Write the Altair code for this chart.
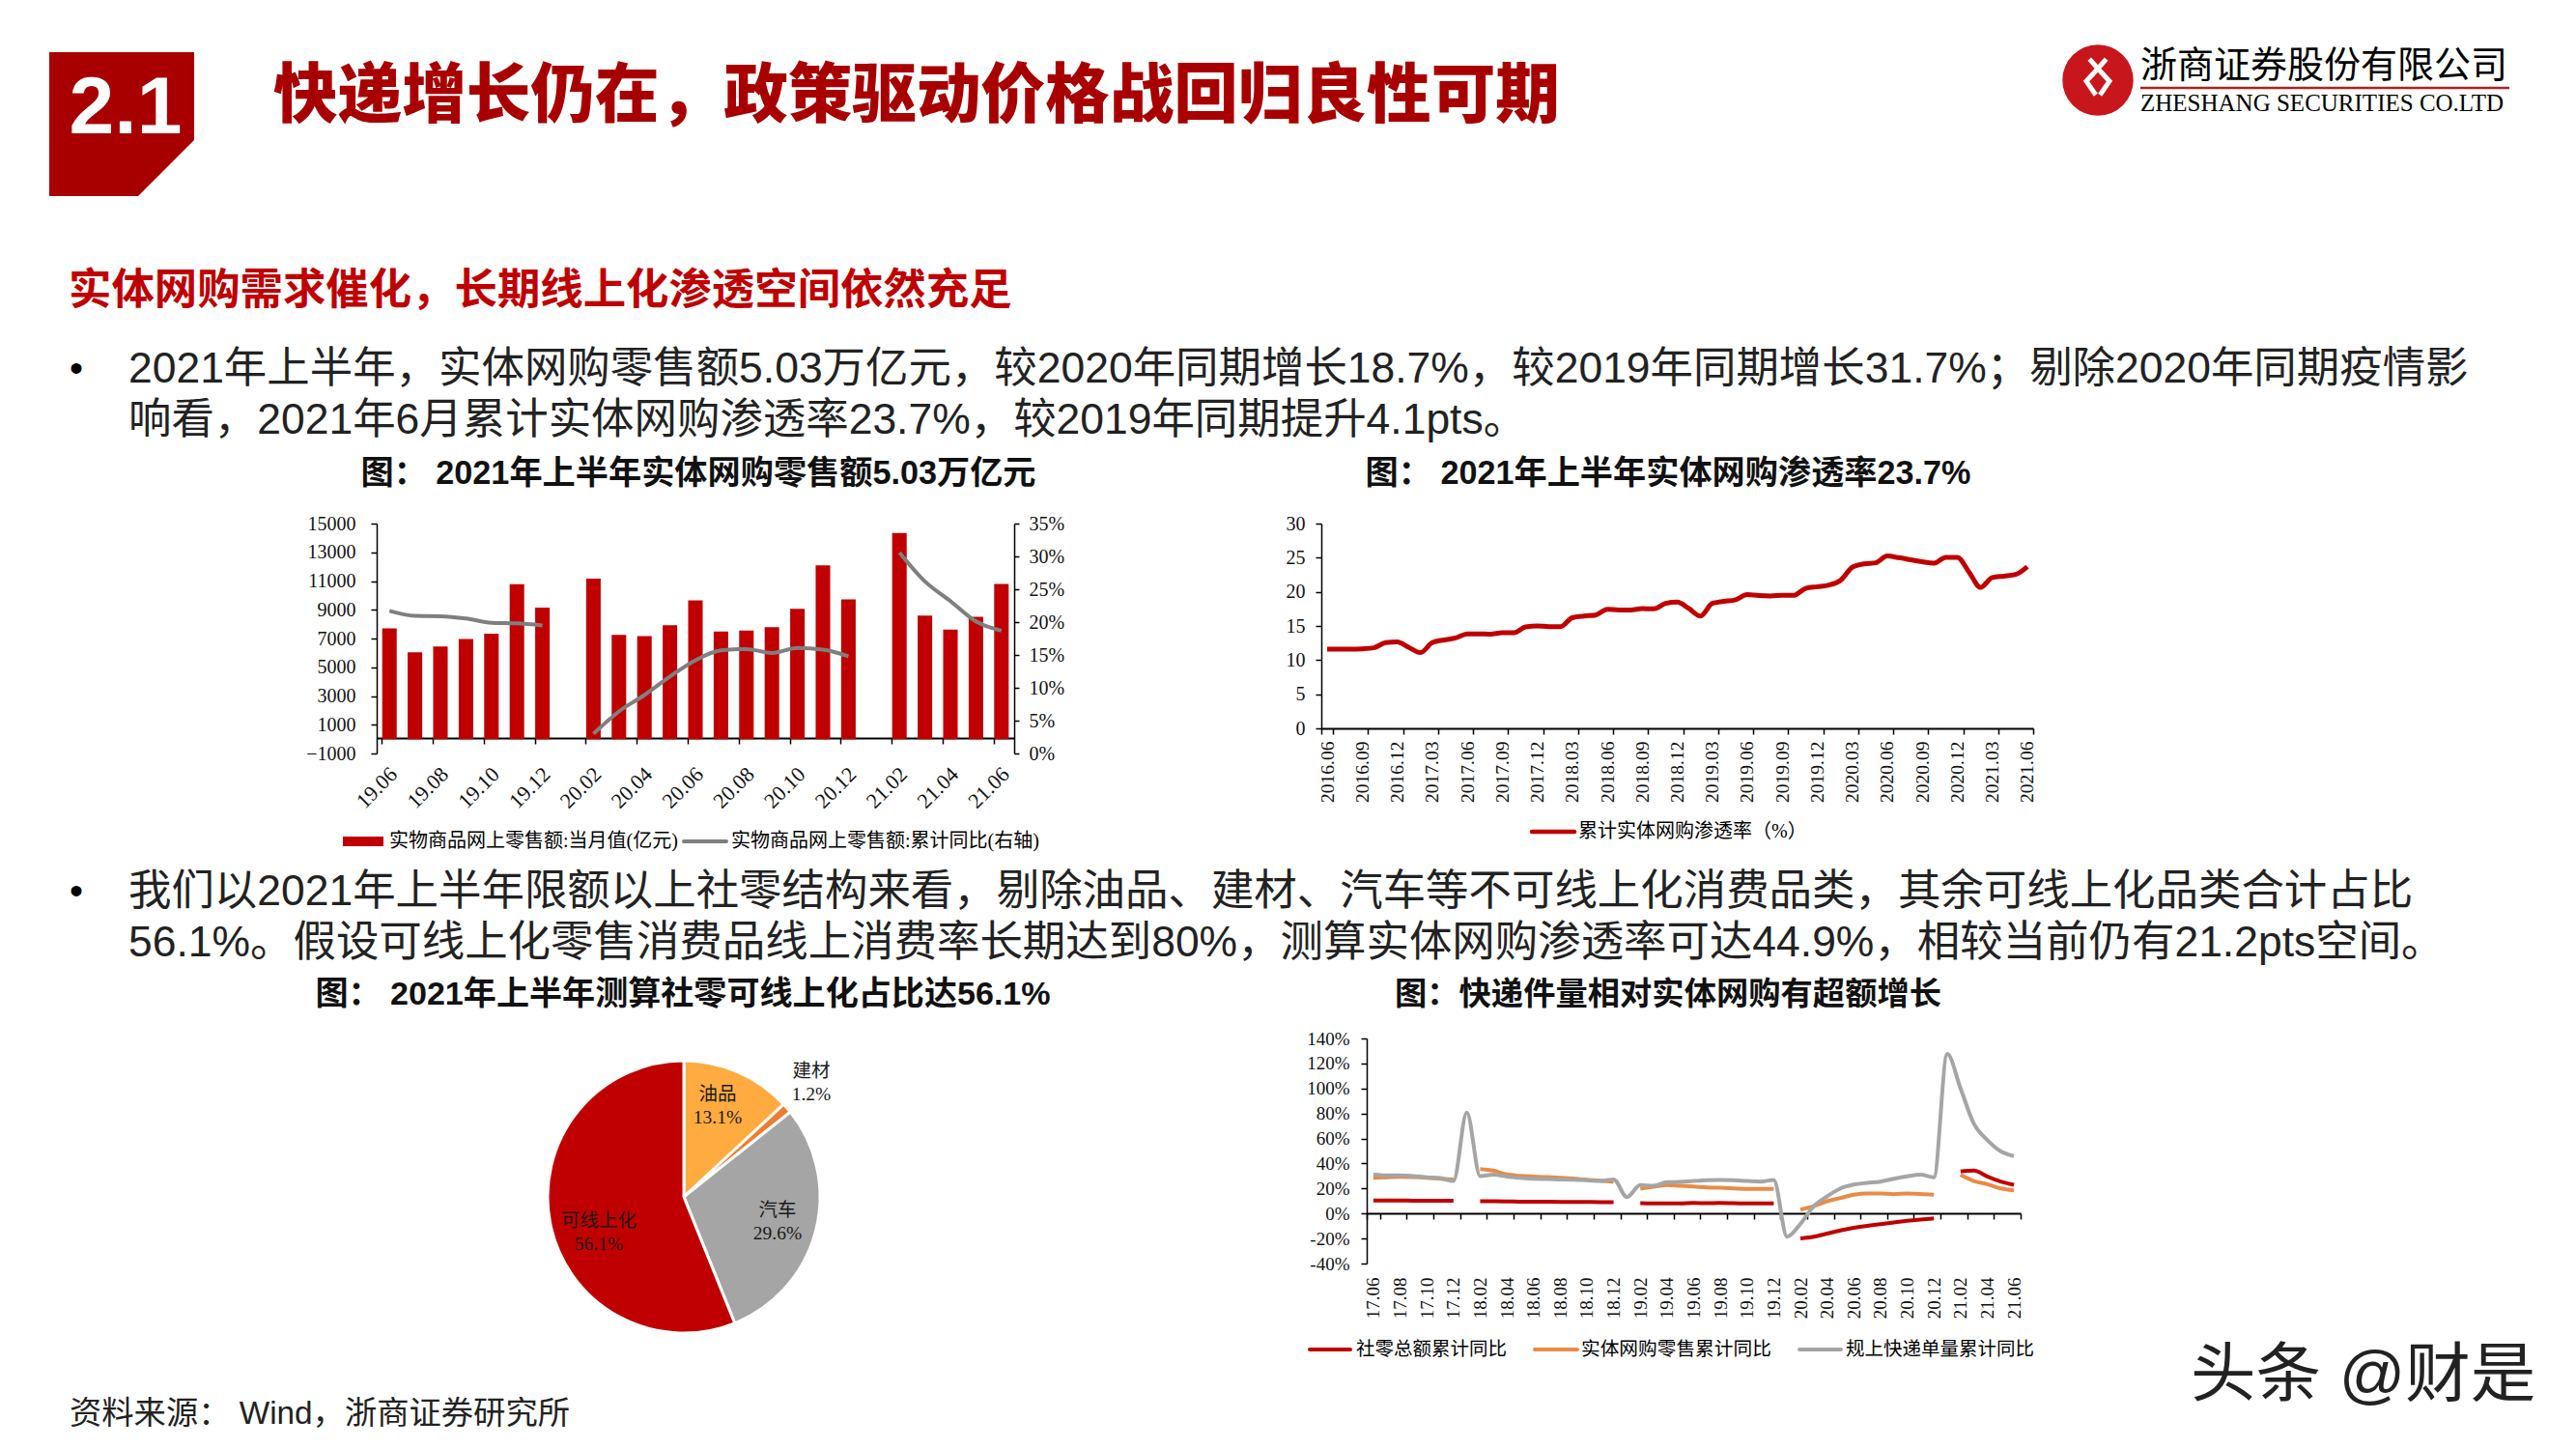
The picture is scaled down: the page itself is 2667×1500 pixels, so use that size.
import altair as alt
import pandas as pd

SERIF = "Liberation Serif, 'Noto Sans CJK SC'"
SANS = "Liberation Sans, 'Noto Sans CJK SC'"
RED = "#C00000"

m1 = ["19.06","19.07","19.08","19.09","19.10","19.11","19.12","20.01","20.02","20.03","20.04","20.05","20.06",
      "20.07","20.08","20.09","20.10","20.11","20.12","21.01","21.02","21.03","21.04","21.05","21.06"]
bars1 = [7700,6040,6440,6960,7340,10780,9150,None,11160,7250,7160,7920,9660,7490,7560,7785,9060,12100,9730,None,14340,8590,7630,8520,10800]
line1 = [21.7,20.95,20.9,20.55,19.9,19.8,19.5,None,3.0,6.4,8.9,11.7,14.2,15.7,15.9,15.3,16.05,15.8,14.8,None,30.6,26.2,23.2,20.1,18.7]

m2 = [f"{y}.{mm:02d}" for y in range(2016, 2022) for mm in range(1, 13)][5:66]
pen = [11.6,11.6,11.6,11.65,11.8,12.55,12.65,11.85,11.1,12.55,12.95,13.25,13.85,13.85,13.8,14.0,14.0,14.85,15.0,14.9,14.9,
       16.2,16.45,16.6,17.45,17.35,17.35,17.55,17.5,18.3,18.5,17.55,16.45,18.3,18.6,18.85,19.6,19.45,19.4,19.5,19.5,20.5,
       20.75,21.0,21.7,23.6,24.1,24.25,25.25,25.0,24.7,24.4,24.2,25.05,25.05,22.9,20.65,22.1,22.3,22.55,23.7]

pie_names = ["油品","建材","汽车","可线上化"]
pie_vals = [13.1,1.2,29.6,56.1]
pie_cols = ["#FFAB40","#ED7D31","#A5A5A5","#C00000"]

m4 = [f"{y}.{mm:02d}" for y in range(17, 22) for mm in range(1, 13)][5:54]
gray4 = [31,30.4,30.4,30,29,28.4,26,80.7,30,31,29.6,28.6,27.8,27.6,27.3,27,26.6,26,27.3,13.2,22.7,22.2,25,25.3,26,26.6,26.8,26.6,26,25.5,26.8,
         -18.5,-8.3,5.9,13.7,20.1,23.2,24.5,25.5,27.8,29.7,31,28.9,127.6,100,71.7,58.8,49.8,45.9]
orange4 = [28.6,29,29.4,29.2,28.6,27.8,27.3,None,35.6,34.3,31.2,30.2,29.6,29.1,28.6,27.9,27,26.3,25.3,None,19.9,21.4,22.7,22.2,21.6,20.9,20.6,20.1,19.6,19.6,19.6,
           None,3.1,5.9,9.8,12.4,15,16,16,15.5,16,15.7,15,None,30.9,26,23.5,20.1,18.6]
red4 = [10.4,10.4,10.4,10.3,10.3,10.2,10.2,None,9.8,9.8,9.7,9.5,9.4,9.4,9.3,9.2,9.2,9.1,9.0,None,8.2,8.1,8.0,8.0,8.4,8.3,8.4,8.2,8.1,8.0,8.0,
        None,-20,-18.6,-16,-13.5,-11.4,-9.8,-8.6,-7.2,-5.9,-4.8,-3.9,None,33.8,34.3,29.6,25.6,23]

one = pd.DataFrame({"a":[0]})

def txt(x, y, s, size, color="#000000", font=SANS, weight="normal", align="left"):
    return alt.Chart(one).mark_text(text=s, fontSize=size, color=color, font=font, fontWeight=weight,
                                    align=align, baseline="middle").encode(x=alt.value(x), y=alt.value(y))
def seg(x1, x2, y, color, w, cap="round"):
    return alt.Chart(one).mark_rule(color=color, strokeWidth=w, strokeCap=cap).encode(
        x=alt.value(x1), x2=alt.value(x2), y=alt.value(y))
def spacer(w, h):
    return alt.Chart(one).mark_point(opacity=0, size=1).encode(x=alt.value(1), y=alt.value(1)).properties(width=w, height=h)

# ---------- page furniture (panel origin is page (8,8))
O = 8
def P(x, y): return x - O, y - O
badge = pd.DataFrame({"x":[51-O,143-O,201-O],"y":[54-O]*3,"y2":[203-O,203-O,145-O]})
page = [alt.Chart(badge).mark_area(color="#A80000").encode(
    x=alt.X("x:Q", scale=None), y=alt.Y("y:Q", scale=None), y2="y2:Q")]
def T(x, y, *a, **k):
    page.append(txt(*P(x, y), *a, **k))
T(130, 113, "2.1", 84, color="#FFFFFF", weight="bold", align="center")
T(283, 101, "快递增长仍在，政策驱动价格战回归良性可期", 66.6, color="#A80000", weight=900)
T(71, 302, "实体网购需求催化，长期线上化渗透空间依然充足", 44.4, color="#C00000", weight="bold")
T(72, 383, "•", 40)
T(133, 383, "2021年上半年，实体网购零售额5.03万亿元，较2020年同期增长18.7%，较2019年同期增长31.7%；剔除2020年同期疫情影", 44.44, color="#222222")
T(133, 436, "响看，2021年6月累计实体网购渗透率23.7%，较2019年同期提升4.1pts。", 44.44, color="#222222")
T(72, 924, "•", 40)
T(133, 924, "我们以2021年上半年限额以上社零结构来看，剔除油品、建材、汽车等不可线上化消费品类，其余可线上化品类合计占比", 44.44, color="#222222")
T(133, 977, "56.1%。假设可线上化零售消费品线上消费率长期达到80%，测算实体网购渗透率可达44.9%，相较当前仍有21.2pts空间。", 44.44, color="#222222")
T(723, 491, "图： 2021年上半年实体网购零售额5.03万亿元", 34.2, weight="bold", align="center", color="#111111")
T(1727, 491, "图： 2021年上半年实体网购渗透率23.7%", 34.2, weight="bold", align="center", color="#111111")
T(707, 1030, "图： 2021年上半年测算社零可线上化占比达56.1%", 34.1, weight="bold", align="center", color="#111111")
T(1727, 1030, "图：快递件量相对实体网购有超额增长", 33.3, weight="bold", align="center", color="#111111")
T(72, 1464, "资料来源： Wind，浙商证券研究所", 33.3, color="#222222")
T(2268, 1425, "头条 @财是", 67.5, color="#222222")
# logo
page.append(alt.Chart(one).mark_point(filled=True, color="#C8161D", opacity=1, shape="circle", size=5400).encode(x=alt.value(2172-O), y=alt.value(83-O)))
page.append(alt.Chart(one).mark_point(filled=False, color="#FFFFFF", opacity=1, strokeWidth=5,
    shape="M-0.4,-1 L0,-0.55 L0.4,-1 M0,-0.55 L-0.55,0.05 L-0.1,0.7 M0,-0.55 L0.55,0.05 L0.1,0.7", size=1900).encode(x=alt.value(2172-O), y=alt.value(83-O)))
T(2216, 69, "浙商证券股份有限公司", 38, font=SERIF)
page.append(seg(2216-O, 2598-O, 91-O, "#B02020", 2.5, "butt"))
T(2216, 107, "ZHESHANG SECURITIES CO.LTD", 25, font=SERIF)
page_panel = alt.layer(*page).properties(width=2651, height=534)

# ---------- chart 1
L1, R1, TOP1, BOT1 = 390, 1050, 542, 780
W1, H1 = R1-L1, BOT1-TOP1
df1 = pd.DataFrame({"m":m1,"v":bars1,"p":line1})
x1 = alt.X("m:N", sort=m1, scale=alt.Scale(domain=m1, paddingInner=0.43, paddingOuter=0.215),
           axis=alt.Axis(values=m1[::2], bandPosition=0, offset=-16, labelPadding=45, labelAngle=-45, labelOffset=-13,
                         labelAlign="center", labelBaseline="middle", tickSize=6, title=None,
                         domainWidth=2, tickWidth=1.5, labelFontSize=22))
b1 = alt.Chart(df1).mark_bar(color=RED).encode(x=x1,
    y=alt.Y("v:Q", scale=alt.Scale(domain=[-1000,15000], nice=False),
            axis=alt.Axis(values=list(range(-1000,15001,2000)), format="d", title=None, tickSize=6, labelFontSize=20, labelPadding=16)))
l1 = alt.Chart(df1).mark_line(color="#7F7F7F", strokeWidth=4, interpolate="monotone").encode(
    x=x1,
    y=alt.Y("p:Q", scale=alt.Scale(domain=[0,35], nice=False),
            axis=alt.Axis(values=list(range(0,36,5)), orient="right", labelExpr="datum.value + '%'",
                          title=None, tickSize=5, labelFontSize=20, labelPadding=10)))
leg1 = [alt.Chart(one).mark_rect(color=RED).encode(x=alt.value(355-L1), x2=alt.value(397-L1), y=alt.value(866-TOP1), y2=alt.value(876-TOP1)),
        txt(403-L1, 871-TOP1, "实物商品网上零售额:当月值(亿元)", 20, font=SERIF),
        seg(708-L1, 752-L1, 871-TOP1, "#7F7F7F", 4),
        txt(757-L1, 871-TOP1, "实物商品网上零售额:累计同比(右轴)", 20, font=SERIF)]
chart1 = alt.layer(alt.layer(b1, l1).resolve_scale(y="independent"), *leg1).properties(width=W1, height=H1)

# ---------- chart 2
L2, R2, TOP2, BOT2 = 1368, 2105, 541, 753
W2, H2 = R2-L2, BOT2-TOP2
df2 = pd.DataFrame({"m":m2,"v":pen})
c2 = alt.Chart(df2).mark_line(color=RED, strokeWidth=5, interpolate="monotone").encode(
    x=alt.X("m:N", sort=m2, scale=alt.Scale(domain=m2, paddingInner=0, paddingOuter=0),
            axis=alt.Axis(values=m2[::3], tickBand="extent", labelAngle=-90, labelAlign="right", labelBaseline="middle",
                          title=None, tickSize=6, domainWidth=2, labelFontSize=19.5, labelPadding=7)),
    y=alt.Y("v:Q", scale=alt.Scale(domain=[0,30], nice=False),
            axis=alt.Axis(values=list(range(0,31,5)), title=None, tickSize=6, labelFontSize=20, labelPadding=11)))
leg2 = [seg(1586-L2, 1630-L2, 860-TOP2, RED, 4.5), txt(1634-L2, 860-TOP2, "累计实体网购渗透率（%）", 20, font=SERIF)]
chart2 = alt.layer(c2, *leg2).properties(width=W2, height=H2)

# ---------- chart 3
dfp = pd.DataFrame({"n":pie_names,"v":pie_vals,"o":[0,1,2,3]})
arc = alt.Chart(dfp).mark_arc(outerRadius=141, stroke="#FFFFFF", strokeWidth=3).encode(
    theta=alt.Theta("v:Q", stack=True), order=alt.Order("o:Q"),
    color=alt.Color("n:N", scale=alt.Scale(domain=pie_names, range=pie_cols), legend=None))
cx, cy = 140, 164
def plabel(dx, dy, s):
    return alt.Chart(one).mark_text(text=s.split("\n"), lineHeight=24, fontSize=19.5, font=SERIF, color="#1a1a1a",
        align="center", baseline="middle").encode(x=alt.value(cx+dx), y=alt.value(cy+dy))
chart3 = alt.layer(arc, plabel(35,-106,"油品\n13.1%"), plabel(132,-130,"建材\n1.2%"),
                   plabel(97,14,"汽车\n29.6%"), plabel(-88,25,"可线上化\n56.1%")).properties(width=280, height=328)

# ---------- chart 4
L4, R4, TOP4, BOT4 = 1415, 2092, 1075, 1308
W4, H4 = R4-L4, BOT4-TOP4
df4 = pd.DataFrame({"m":m4,"社零":red4,"网购":orange4,"快递":gray4})
x4 = alt.X("m:N", sort=m4, scale=alt.Scale(domain=m4, paddingInner=0, paddingOuter=0),
           axis=alt.Axis(values=m4[::2], tickBand="extent", offset=-(BOT4-1256), labelAngle=-90, labelAlign="right",
                         labelBaseline="middle", title=None, tickSize=6, domainWidth=2, labelFontSize=19,
                         labelPadding=(BOT4-1256)+8))
axis4y = alt.Axis(values=list(range(-40,141,20)), labelExpr="datum.value + '%'", title=None, tickSize=6, labelFontSize=19, labelPadding=12)
def line4(col, color):
    y = alt.Y(f"{col}:Q", scale=alt.Scale(domain=[-40,140], nice=False), axis=axis4y)
    return alt.Chart(df4).mark_line(color=color, strokeWidth=4, interpolate="monotone").encode(x=x4, y=y)
leg4 = [seg(1356-L4,1398-L4,1397-TOP4,"#C00000",4), txt(1404-L4,1397-TOP4,"社零总额累计同比",19.5,font=SERIF),
        seg(1589-L4,1633-L4,1397-TOP4,"#E98B45",4), txt(1637-L4,1397-TOP4,"实体网购零售累计同比",19.7,font=SERIF),
        seg(1863-L4,1906-L4,1397-TOP4,"#A5A5A5",4), txt(1911-L4,1397-TOP4,"规上快递单量累计同比",19.5,font=SERIF)]
chart4 = alt.layer(line4("社零","#C00000"), line4("网购","#E98B45"), line4("快递","#A5A5A5"), *leg4).properties(width=W4, height=H4)

# ---------- layout (flush grid; nested rows count as zero height, so spacers carry the full advance)
row1 = alt.hconcat(spacer(L1-O, H1), chart1, spacer(L2-R1, H1), chart2, spacing=0, bounds="flush")
PL, PR = 568, 848
row3 = alt.hconcat(spacer(PL-O, 328), chart3, spacer(L4-PR, 328), chart4, spacing=0, bounds="flush")
chart = alt.vconcat(page_panel, row1, spacer(10, TOP4-TOP1), row3, spacer(10, 1484-(TOP4-O)),
                    spacing=0, bounds="flush", padding=0).configure(
    font=SERIF, view=alt.ViewConfig(stroke=None),
    axis=alt.AxisConfig(grid=False, domainColor="#000000", tickColor="#000000", labelColor="#111111",
                        labelFont=SERIF, domainWidth=1.5, tickWidth=1.5))
chart.save("out.html", embed_options={"renderer": "svg", "actions": False})
